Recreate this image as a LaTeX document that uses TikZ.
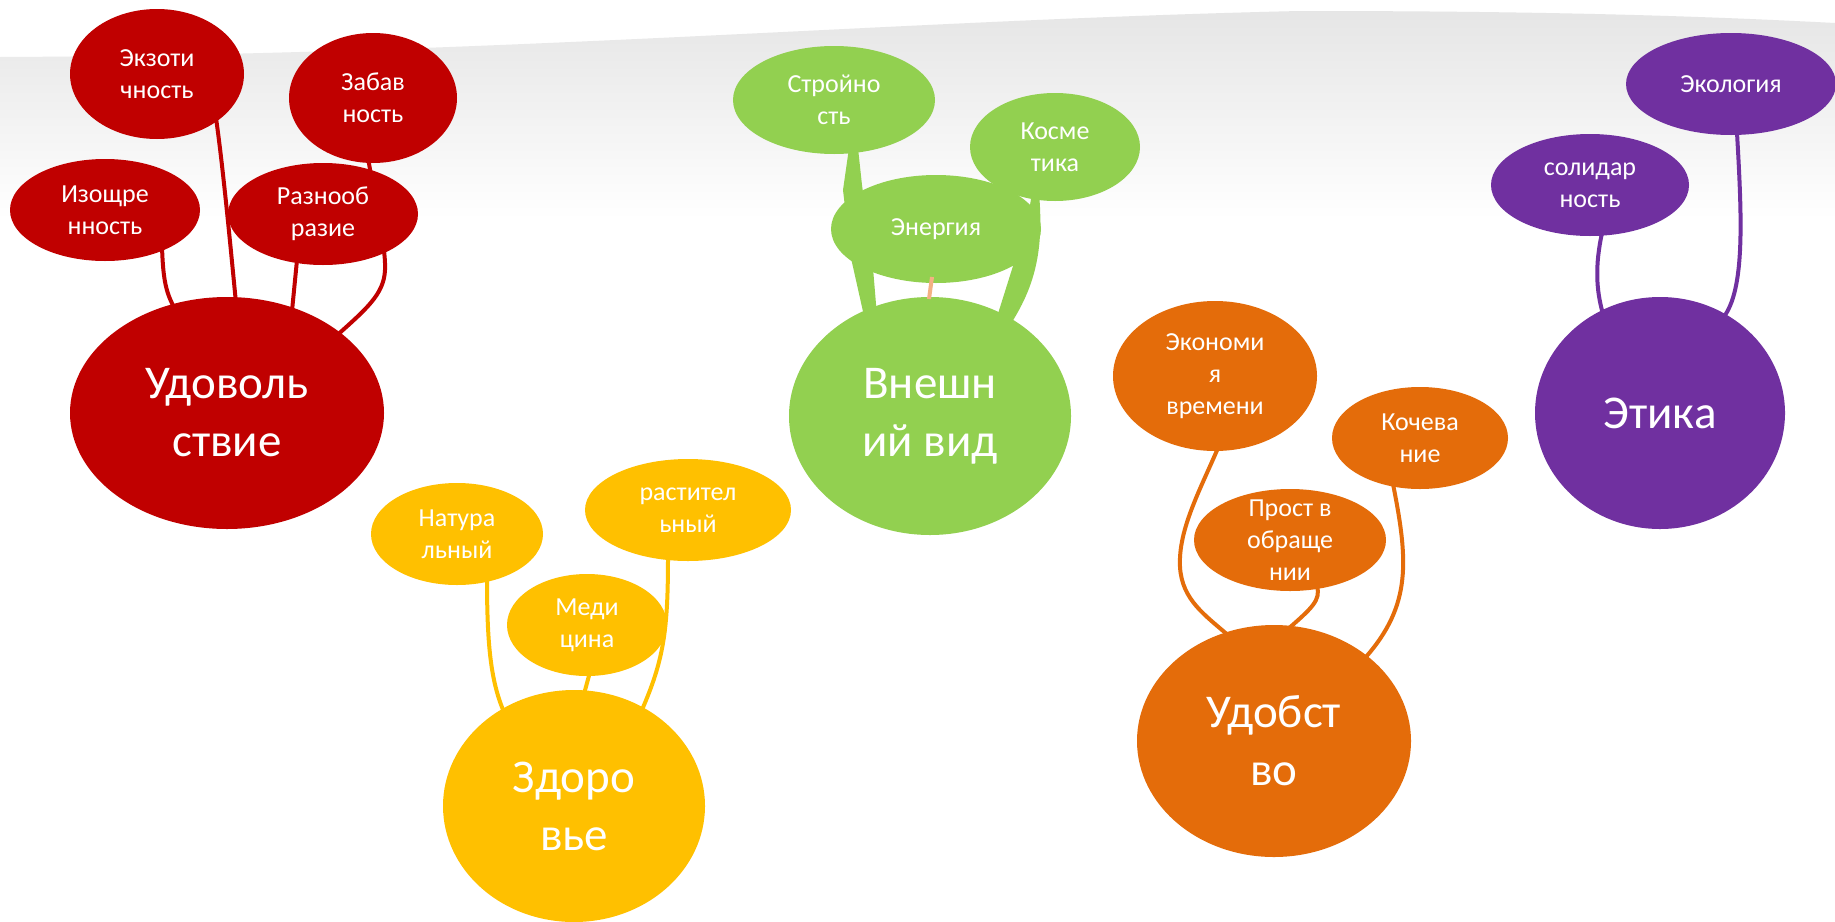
\documentclass[tikz,border=0pt]{standalone}
\usepackage{fontspec}
\setmainfont{Carlito}
\usetikzlibrary{shapes.geometric,calc}
\definecolor{cRed}{HTML}{C00000}
\definecolor{cGreen}{HTML}{92D050}
\definecolor{cYellow}{HTML}{FFC000}
\definecolor{cOrange}{HTML}{E46C0A}
\definecolor{cPurple}{HTML}{7030A0}
\definecolor{cPeach}{HTML}{F4B183}
\pgfdeclarelayer{bg}
\pgfdeclarelayer{lines}
\pgfsetlayers{bg,lines,main}
\begin{document}
\begin{tikzpicture}[x=1pt,y=-1pt,
  bub/.style={ellipse, inner sep=0pt, draw=none},
  stxt/.style={text=white, align=center, font=\fontsize{26}{32}\selectfont, inner sep=0pt},
  btxt/.style={text=white, align=center, font=\fontsize{47}{58}\selectfont, inner sep=0pt},
  conn/.style={line width=4pt, line cap=round}
]
\useasboundingbox (0,0) rectangle (1835,921);
\begin{pgfonlayer}{bg}
\fill[white] (0,0) rectangle (1835,921);
\shade[top color=black!10, bottom color=white] (0,57) .. controls (500,55) and (900,20) .. (1300,11) .. controls (1550,11) and (1700,16) .. (1835,23) -- (1835,220) -- (0,220) -- cycle;
\end{pgfonlayer}

% red group
\node[bub, fill=cRed, minimum width=174pt, minimum height=130pt, label={[stxt]center:Экзоти\\чность}] (ekz) at (157,74) {};
\node[bub, fill=cRed, minimum width=168pt, minimum height=130pt, label={[stxt]center:Забав\\ность}] (zab) at (373,98) {};
\node[bub, fill=cRed, minimum width=190pt, minimum height=102pt, label={[stxt]center:Изощре\\нность}] (izo) at (105,210) {};
\node[bub, fill=cRed, minimum width=190pt, minimum height=102pt, label={[stxt]center:Разнооб\\разие}] (raz) at (323,214) {};
\node[bub, fill=cRed, minimum width=314pt, minimum height=232pt, label={[btxt]center:Удоволь\\ствие}] (udo) at (227,413) {};

% green group
\node[bub, fill=cGreen, minimum width=202pt, minimum height=108pt, label={[stxt]center:Стройно\\сть}] (str) at (834,100) {};
\node[bub, fill=cGreen, minimum width=170pt, minimum height=108pt, label={[stxt]center:Косме\\тика}] (kos) at (1055,147) {};
\node[bub, fill=cGreen, minimum width=210pt, minimum height=108pt, label={[stxt]center:Энергия}] (ene) at (936,229) {};
\node[bub, fill=cGreen, minimum width=282pt, minimum height=238pt, label={[btxt]center:Внешн\\ий вид}] (vne) at (930,416) {};
\draw[line width=4pt, cPeach] ($(ene.center)+(-4,48)$) -- ($(vne.center)+(-1,-117)$);

% yellow group
\node[bub, fill=cYellow, minimum width=172pt, minimum height=102pt, label={[stxt]center:Натура\\льный}] (nat) at (457,534) {};
\node[bub, fill=cYellow, minimum width=206pt, minimum height=102pt, label={[stxt]center:растител\\ьный}] (ras) at (688,510) {};
\node[bub, fill=cYellow, minimum width=160pt, minimum height=102pt, label={[stxt]center:Меди\\цина}] (med) at (587,625) {};
\node[bub, fill=cYellow, minimum width=262pt, minimum height=232pt, label={[btxt]center:Здоро\\вье}] (zdo) at (574,806) {};

% orange group
\node[bub, fill=cOrange, minimum width=204pt, minimum height=150pt, label={[stxt]center:Экономи\\я\\времени}] (eko) at (1215,376) {};
\node[bub, fill=cOrange, minimum width=176pt, minimum height=102pt, label={[stxt]center:Кочева\\ние}] (koc) at (1420,438) {};
\node[bub, fill=cOrange, minimum width=192pt, minimum height=102pt, label={[stxt]center:Прост в\\обраще\\нии}] (pro) at (1290,540) {};
\node[bub, fill=cOrange, minimum width=274pt, minimum height=232pt, label={[btxt]center:Удобст\\во}] (udb) at (1274,741) {};

% purple group
\node[bub, fill=cPurple, minimum width=210pt, minimum height=102pt, label={[stxt]center:Экология}] (eco) at (1731,84) {};
\node[bub, fill=cPurple, minimum width=198pt, minimum height=102pt, label={[stxt]center:солидар\\ность}] (sol) at (1590,185) {};
\node[bub, fill=cPurple, minimum width=250pt, minimum height=232pt, label={[btxt]center:Этика}] (eti) at (1660,413) {};

\begin{pgfonlayer}{lines}
% red
\draw[conn, cRed] ($(izo.center)+(57,36)$) .. controls (163,280) and (166,293) .. ($(udo.center)+(-52,-104)$);
\draw[conn, cRed] ($(ekz.center)+(59,44)$) .. controls (222,160) and (228,220) .. ($(udo.center)+(9,-110)$);
\draw[conn, cRed] ($(raz.center)+(-26,46)$) -- ($(udo.center)+(65,-102)$);
\draw[conn, cRed] ($(zab.center)+(-5,60)$) .. controls (378,215) and (386,250) .. (385,270) .. controls (384,295) and (365,310) .. ($(udo.center)+(107,-75)$);
% green wedges
\fill[cGreen] (849,148) -- (858,148) -- (862,185) -- (873,268) -- (877,316) -- (864,316) -- (851,258) -- (843,190) -- cycle;
\fill[cGreen] (1032,193) -- (1039,193) .. controls (1044,250) and (1035,285) .. (1012,322) -- (996,320) -- (1013,266) -- (1030,205) -- cycle;
% yellow
\draw[conn, cYellow] ($(nat.center)+(30,44)$) .. controls (487,640) and (490,680) .. ($(zdo.center)+(-70,-94)$);
\draw[conn, cYellow] ($(med.center)+(3,47)$) -- ($(zdo.center)+(10,-112)$);
\draw[conn, cYellow] ($(ras.center)+(-20,46)$) .. controls (668,630) and (664,660) .. ($(zdo.center)+(67,-94)$);
% orange
\draw[conn, cOrange] ($(eko.center)+(3,72)$) .. controls (1200,490) and (1178,530) .. (1180,567) .. controls (1182,600) and (1205,615) .. ($(udb.center)+(-45,-105)$);
\draw[conn, cOrange] ($(pro.center)+(27,46)$) .. controls (1321,600) and (1312,608) .. ($(udb.center)+(14,-112)$);
\draw[conn, cOrange] ($(koc.center)+(-27,46)$) .. controls (1408,560) and (1412,605) .. ($(udb.center)+(91,-83)$);
% purple
\draw[conn, cPurple] ($(sol.center)+(12,48)$) .. controls (1595,265) and (1596,290) .. ($(eti.center)+(-57,-99)$);
\draw[conn, cPurple] ($(eco.center)+(6,49)$) .. controls (1742,220) and (1745,290) .. ($(eti.center)+(63,-95)$);
\end{pgfonlayer}
\end{tikzpicture}
\end{document}
